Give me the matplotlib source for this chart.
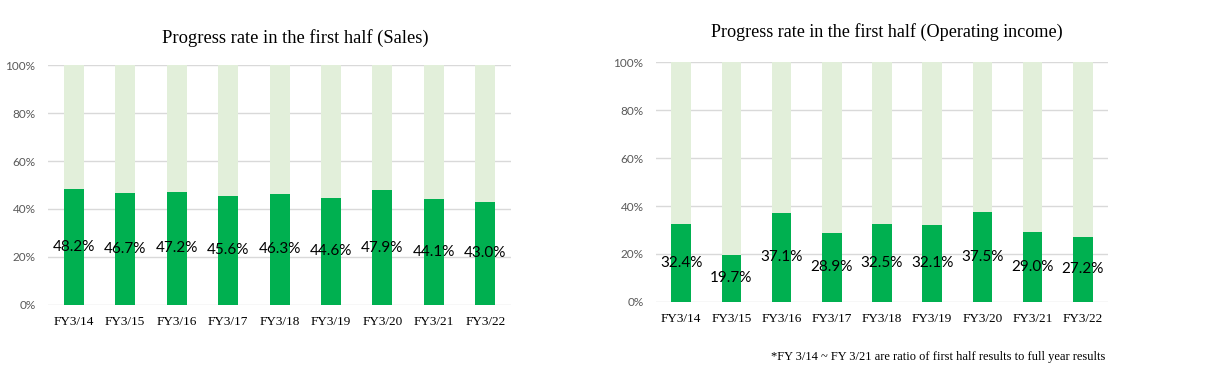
import numpy as np
import matplotlib.pyplot as plt
from matplotlib.ticker import PercentFormatter

# data
years = ['FY3/14', 'FY3/15', 'FY3/16', 'FY3/17', 'FY3/18', 'FY3/19', 'FY3/20', 'FY3/21', 'FY3/22']
sales_rate = [48.2, 46.7, 47.2, 45.6, 46.3, 44.6, 47.9, 44.1, 43.0]
income_rate = [32.4, 19.7, 37.1, 28.9, 32.5, 32.1, 37.5, 29.0, 27.2]

dark = '#00B050'
light = '#E2EFDA'
serif = 'Liberation Serif'
sans = 'Lato'

fig = plt.figure(figsize=(12.13, 3.70), dpi=100)
ax1 = fig.add_axes([0.0396, 0.1757, 0.3817, 0.6486])
ax2 = fig.add_axes([0.5408, 0.1838, 0.3726, 0.6486])


def draw(ax, vals, title, tsize, tx, tpad):
    x = np.arange(len(years))
    vals = np.array(vals)
    ax.bar(x, vals, width=0.39, color=dark, zorder=2)
    ax.bar(x, 100 - vals, bottom=vals, width=0.39, color=light, zorder=2)
    for xi, v in zip(x, vals):
        ax.text(xi, v / 2, '%.1f%%' % v, ha='center', va='center',
                fontsize=11, family=sans, color='black', zorder=3)
    ax.set_xlim(-0.5, len(years) - 0.5)
    ax.set_ylim(0, 100)
    ax.set_yticks(range(0, 101, 20))
    ax.yaxis.set_major_formatter(PercentFormatter(decimals=0))
    ax.set_xticks(x)
    ax.set_xticklabels(years, family=serif, fontsize=9.5)
    ax.tick_params(axis='y', labelsize=8.5, labelcolor='#595959', length=0, pad=9)
    ax.tick_params(axis='x', length=0, pad=8)
    for lab in ax.get_yticklabels():
        lab.set_family(sans)
    ax.grid(axis='y', color='#D9D9D9', linewidth=1, zorder=0)
    for s in ax.spines.values():
        s.set_visible(False)
    ax.set_title(title, family=serif, fontsize=tsize, pad=tpad, x=tx)


draw(ax1, sales_rate, 'Progress rate in the first half (Sales)', 13.3, 0.533, 16)
draw(ax2, income_rate, 'Progress rate in the first half (Operating income)', 13.1, 0.511, 18)

fig.text(0.911, 0.035, '*FY 3/14 ~ FY 3/21 are ratio of first half results to full year results',
         ha='right', va='center', family=serif, fontsize=9)

fig.savefig('out.png', dpi=100)
